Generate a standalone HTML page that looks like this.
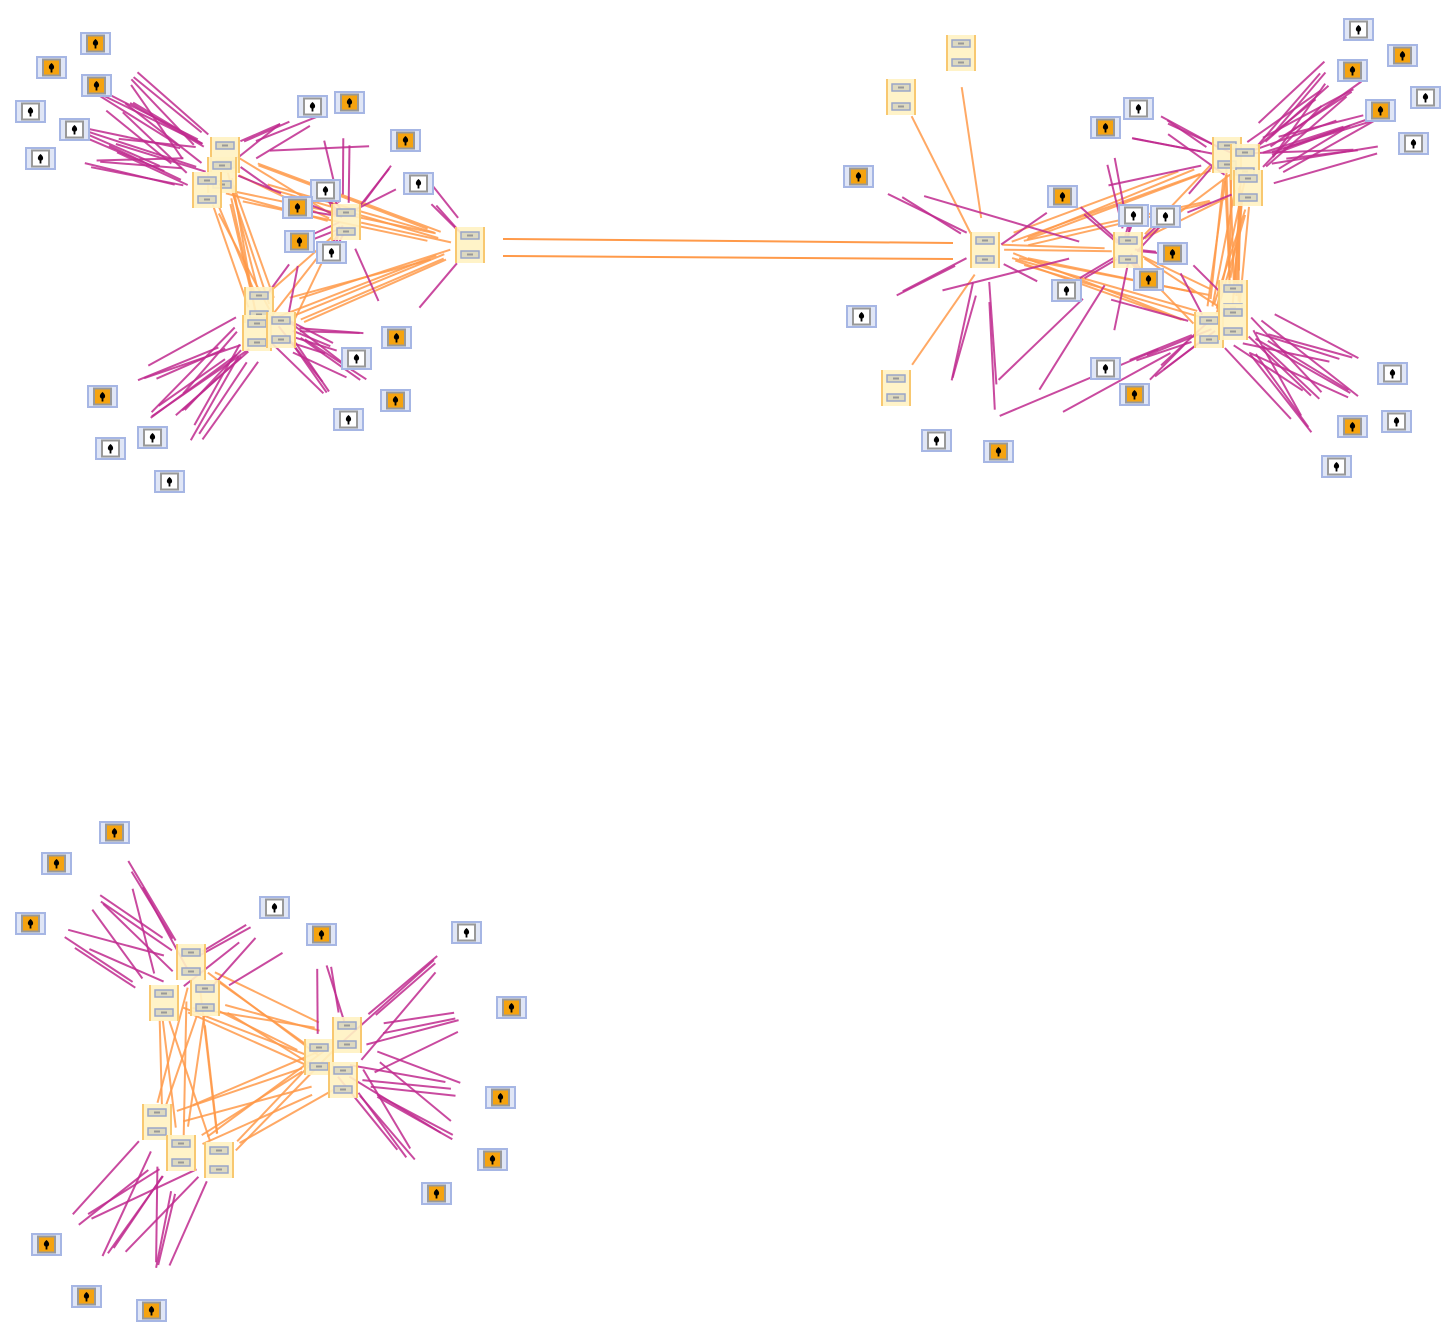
<!DOCTYPE html>
<html><head><meta charset="utf-8"><style>html,body{margin:0;padding:0;background:#fff;width:1456px;height:1338px;overflow:hidden}</style></head>
<body>
<svg id="s" width="1456" height="1338" xmlns="http://www.w3.org/2000/svg"><g id="e"></g><g id="n"></g></svg>
<script>
var clusters=[
{hubs:[[225,155],[222,175],[207,190],[470,245],[346,222],[259,305],[257,333],[281,330]],ex:[],
groups:[[0,1,2],[3],[4],[5,6,7]],gp:[[0,3,1],[0,1,2],[3,1,2],[2,1,1],[2,0,1],[2,3,1]],
leaves:[[95,43,1],[51,67,1],[96,85,1],[30,111,0],[74,129,0],[40,158,0],[312,106,0],[349,102,1],[405,140,1],[325,190,0],[418,183,0],[297,207,1],[299,241,1],[331,252,0],[396,337,1],[356,358,0],[395,400,1],[348,419,0],[102,396,1],[152,437,0],[110,448,0],[169,481,0]]},
{hubs:[[961,53],[901,97],[985,250],[896,388],[1227,155],[1245,162],[1248,188],[1128,250],[1233,298],[1209,330],[1233,322]],ex:[0,1,3],
groups:[[0],[1],[2],[3],[4,5,6],[7],[8,9,10]],gp:[[0,2,1],[1,2,1],[3,2,1],[2,4,2],[2,6,2],[2,5,2],[4,6,2],[5,4,1],[5,6,1]],
leaves:[[858,176,1],[861,316,0],[936,440,0],[998,451,1],[1105,127,1],[1138,108,0],[1062,196,1],[1133,215,0],[1165,216,0],[1172,253,1],[1148,279,1],[1066,290,0],[1105,368,0],[1134,394,1],[1358,29,0],[1402,55,1],[1352,70,1],[1425,97,0],[1380,110,1],[1413,143,0],[1392,373,0],[1352,426,1],[1396,421,0],[1336,466,0]]},
{hubs:[[191,962],[164,1003],[205,998],[319,1057],[347,1035],[343,1080],[157,1122],[181,1153],[219,1160]],ex:[],
groups:[[0,1,2],[3,4,5],[6,7,8]],gp:[[0,1,1],[0,2,1],[2,1,1]],
leaves:[[114,832,1],[56,863,1],[30,923,1],[274,907,0],[321,934,1],[466,932,0],[511,1007,1],[500,1097,1],[492,1159,1],[436,1193,1],[46,1244,1],[86,1296,1],[151,1310,1]]}];
var seed=7;function r(){seed=(seed*16807)%2147483647;return seed/2147483647;}
var E='',N='';
function seg(a,b,col,w,t0,t1){var j=6;var ax=a[0]+(r()-.5)*j*2,ay=a[1]+(r()-.5)*j*2,bx=b[0]+(r()-.5)*j*2,by=b[1]+(r()-.5)*j*2;
var x1=ax+(bx-ax)*t0,y1=ay+(by-ay)*t0,x2=ax+(bx-ax)*t1,y2=ay+(by-ay)*t1;
E+='<line x1="'+x1.toFixed(1)+'" y1="'+y1.toFixed(1)+'" x2="'+x2.toFixed(1)+'" y2="'+y2.toFixed(1)+'" stroke="'+col+'" stroke-width="'+w+'" stroke-opacity="0.85"/>';}
function d(a,b){return Math.hypot(a[0]-b[0],a[1]-b[1]);}
clusters.forEach(function(c){
 c.gp.forEach(function(p){c.groups[p[0]].forEach(function(i){c.groups[p[1]].forEach(function(k){for(var m=0;m<p[2];m++)seg(c.hubs[i],c.hubs[k],'#ff9a4a',2,0.1+r()*.08,0.82+r()*.08);});});});
 var tg=c.hubs.filter(function(h,i){return c.ex.indexOf(i)<0;});
 c.leaves.forEach(function(l){var hs=tg.slice().sort(function(a,b){return d(a,l)-d(b,l)});var d0=d(hs[0],l);
  var cnt=0;for(var q=0;q<3;q++){var h=hs[q];if(d(h,l)>d0*2.2)break;for(var m=0;m<(q==0?2:1);m++){seg(l,h,'#c02a8e',2,0.22+r()*.12,0.75+r()*.12);cnt++;}}
  if(cnt<3)seg(l,hs[0],'#c02a8e',2,0.22+r()*.12,0.75+r()*.12);});
});
E+='<line x1="503" y1="239" x2="953" y2="243" stroke="#ff9a4a" stroke-width="2"/><line x1="503" y1="256" x2="953" y2="259" stroke="#ff9a4a" stroke-width="2"/>';
function hub(x,y){x-=15;y-=18;N+='<g transform="translate('+x+','+y+')"><rect x="0" y="0" width="30" height="36" fill="#fff2c2" fill-opacity=".9"/><rect x="0" y="0" width="2" height="36" fill="#f8c870"/><rect x="28" y="0" width="2" height="36" fill="#f8c870"/><rect x="6" y="5" width="18" height="7" fill="#ddd9c0" stroke="#9aa6c8" stroke-width="1.5"/><rect x="6" y="24" width="18" height="7" fill="#ddd9c0" stroke="#9aa6c8" stroke-width="1.5"/><rect x="12" y="7.5" width="6" height="2" fill="#999"/><rect x="12" y="26.5" width="6" height="2" fill="#999"/></g>';}
function leaf(x,y,o){x-=15;y-=11;N+='<g transform="translate('+x+','+y+')"><rect x="1" y="1" width="29" height="21" fill="#e0e6f6" stroke="#a6b6e4" stroke-width="2"/><rect x="7" y="3.5" width="17" height="16" fill="'+(o?'#f5a30f':'#fff')+'" stroke="#999" stroke-width="2"/><path d="M15.5 7 c-2 1.5 -3 3.5 -2.5 5 c.4 1 1 1.4 1.6 1.5 l0 3 l1.8 0 l0 -3 c.6 -.1 1.2 -.5 1.6 -1.5 c.5 -1.5 -.5 -3.5 -2.5 -5z" fill="#000"/></g>';}
clusters.forEach(function(c){c.hubs.forEach(function(h){hub(h[0],h[1]);});c.leaves.forEach(function(l){leaf(l[0],l[1],l[2]);});});
document.getElementById('e').innerHTML=E;document.getElementById('n').innerHTML=N;
</script>
</body></html>
